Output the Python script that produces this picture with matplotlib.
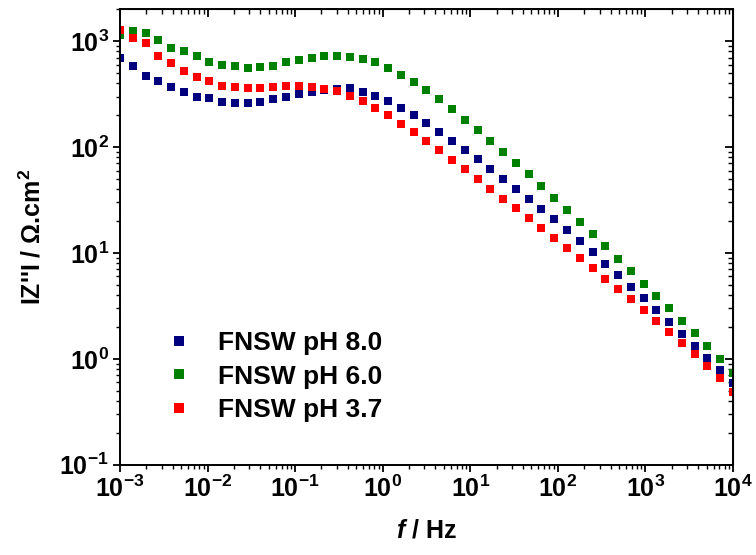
import matplotlib
matplotlib.use("Agg")
from matplotlib import pyplot as plt
from matplotlib.ticker import LogLocator, NullFormatter

# measured frequencies (7 points per decade, 1 mHz .. 10 kHz)
freq = [0.001, 0.001399, 0.001957, 0.002738, 0.003831, 0.005360, 0.007499,
        0.01049, 0.01468, 0.02054, 0.02873, 0.04020, 0.05623, 0.07867,
        0.1101, 0.1540, 0.2154, 0.3014, 0.4217, 0.5900, 0.8254,
        1.1548, 1.6156, 2.2603, 3.1623, 4.4242, 6.1897, 8.6596,
        12.115, 16.950, 23.714, 33.176, 46.416, 64.938, 90.852,
        127.11, 177.83, 248.79, 348.07, 486.97, 681.29, 953.16,
        1333.5, 1865.6, 2610.2, 3651.7, 5108.9, 7147.7, 10000.0]

z_ph80 = [697, 586, 472, 423, 368, 328, 299, 288, 268, 258, 260, 264, 286,
          297, 316, 330, 343, 356, 358, 330, 301, 272, 235, 200, 168, 140,
          115, 93.7, 76.5, 62.5, 50.3, 40.5, 32.6, 26.0, 20.8, 16.4, 13.0,
          10.2, 7.94, 6.25, 4.78, 3.74, 2.88, 2.22, 1.71, 1.33, 1.02, 0.778,
          0.586]

z_ph60 = [1132, 1242, 1200, 1031, 867, 800, 718, 640, 599, 586, 556, 565,
          586, 630, 658, 692, 718, 728, 713, 682, 634, 553, 482, 410, 343,
          282, 228, 182, 146, 115, 89.7, 70.6, 55.2, 42.8, 33.3, 25.5, 19.8,
          15.2, 11.6, 8.85, 6.76, 5.14, 3.93, 3.01, 2.30, 1.74, 1.32, 0.993,
          0.738]

z_ph37 = [1262, 1076, 966, 718, 621, 518, 458, 417, 380, 368, 358, 358, 366,
          374, 374, 366, 356, 335, 305, 272, 233, 199, 165, 138, 114, 93,
          76, 61.6, 49.9, 40.2, 32.3, 26.4, 21.2, 17.1, 13.8, 11.2, 8.98,
          7.17, 5.73, 4.57, 3.66, 2.88, 2.30, 1.81, 1.42, 1.11, 0.853, 0.653,
          0.489]

labels = ['FNSW pH 8.0', 'FNSW pH 6.0', 'FNSW pH 3.7']
colors = ['#00007f', '#008000', '#ff0000']

plt.rcParams['font.family'] = ['Liberation Sans', 'DejaVu Sans']
plt.rcParams['font.weight'] = 'bold'
plt.rcParams['mathtext.fontset'] = 'custom'
plt.rcParams['mathtext.rm'] = 'Liberation Sans:bold'
plt.rcParams['mathtext.bf'] = 'Liberation Sans:bold'
plt.rcParams['mathtext.it'] = 'Liberation Sans:italic:bold'
plt.rcParams['mathtext.default'] = 'regular'

fig = plt.figure(figsize=(7.56, 5.55), dpi=100)
ax = fig.add_axes([0.1587, 0.1627, 0.8109, 0.8205])

for ys, lab, col in zip([z_ph80, z_ph60, z_ph37], labels, colors):
    ax.plot(freq, ys, ls='none', marker='s', ms=6.0, mew=0, color=col, label=lab)

ax.set_xscale('log')
ax.set_yscale('log')
ax.set_xlim(1e-3, 1e4)
ax.set_ylim(0.1, 2000)

for a in (ax.xaxis, ax.yaxis):
    a.set_major_locator(LogLocator(base=10, numticks=20))
    a.set_minor_locator(LogLocator(base=10, subs=range(2, 10), numticks=20))
    a.set_minor_formatter(NullFormatter())

ax.tick_params(which='major', direction='out', length=5, width=1.3, labelsize=18, pad=3)
ax.tick_params(which='minor', direction='out', length=3, width=1.0)
for s in ax.spines.values():
    s.set_linewidth(1.4)

top = ax.secondary_xaxis('top')
top.tick_params(which='major', direction='in', length=6, width=1.3, labelsize=0)
top.tick_params(which='minor', direction='in', length=3.5, width=1.0)
top.xaxis.set_major_locator(LogLocator(base=10, numticks=20))
top.xaxis.set_minor_locator(LogLocator(base=10, subs=range(2, 10), numticks=20))
top.xaxis.set_major_formatter(NullFormatter())
top.xaxis.set_minor_formatter(NullFormatter())

right = ax.secondary_yaxis('right')
right.tick_params(which='major', direction='in', length=6, width=1.3, labelsize=0)
right.tick_params(which='minor', direction='in', length=3.5, width=1.0)
right.yaxis.set_major_locator(LogLocator(base=10, numticks=20))
right.yaxis.set_minor_locator(LogLocator(base=10, subs=range(2, 10), numticks=20))
right.yaxis.set_major_formatter(NullFormatter())
right.yaxis.set_minor_formatter(NullFormatter())

ax.set_xlabel(r'$\mathit{f}$ / Hz', fontsize=18, fontweight='bold', labelpad=12)
ax.set_ylabel("IZ''I / Ω.cm$^{2}$", fontsize=18, fontweight='bold', labelpad=10)

ax.legend(loc='upper left', bbox_to_anchor=(0.223, 0.404), bbox_transform=fig.transFigure,
          frameon=False, fontsize=19, handlelength=0.8, handletextpad=1.08,
          labelspacing=0.37, borderpad=0, borderaxespad=0, markerscale=1.2)

plt.savefig('out.png', dpi=100)
